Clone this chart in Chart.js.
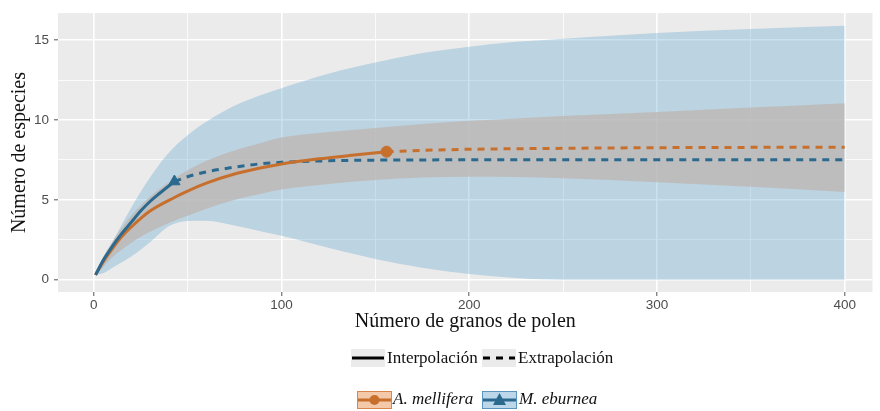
<!DOCTYPE html>
<html lang="es">
<head>
<meta charset="utf-8">
<title>Curvas de rarefacción y extrapolación</title>
<script src="https://cdn.jsdelivr.net/npm/chart.js@4/dist/chart.umd.min.js"></script>
<style>
  html, body { margin: 0; padding: 0; background: #fff; }
  #wrap { position: relative; width: 880px; height: 411px; overflow: hidden; }
  #chart { position: absolute; left: 0; top: 0; }
  .lg { position: absolute; font-family: "Liberation Serif", "Times New Roman", serif; font-size: 17px; color: #111; height: 20px; line-height: 20px; white-space: nowrap; }
  .lg.it { font-style: italic; }
  .key { position: absolute; }
</style>
</head>
<body>
<div id="wrap">
  <canvas id="chart" width="880" height="411"></canvas>

  <!-- line type legend -->
  <svg class="key" style="left:351px;top:349px" width="34" height="18">
    <rect x="0" y="0" width="34" height="18" fill="#ebebeb"/>
    <line x1="1" y1="9" x2="33" y2="9" stroke="#000" stroke-width="3"/>
  </svg>
  <div class="lg" style="left:387px;top:348px">Interpolación</div>
  <svg class="key" style="left:482px;top:349px" width="34" height="18">
    <rect x="0" y="0" width="34" height="18" fill="#ebebeb"/>
    <line x1="1" y1="9" x2="33" y2="9" stroke="#000" stroke-width="3" stroke-dasharray="7 6"/>
  </svg>
  <div class="lg" style="left:518px;top:348px">Extrapolación</div>

  <!-- species legend -->
  <svg class="key" style="left:357px;top:391px" width="35" height="18">
    <rect x="0.5" y="0.5" width="34" height="17" fill="#f4c9a9" stroke="#d8864c" stroke-width="1"/>
    <line x1="1" y1="9" x2="34" y2="9" stroke="#c7702e" stroke-width="3"/>
    <circle cx="17.5" cy="9" r="5" fill="#c7702e"/>
  </svg>
  <div class="lg it" style="left:393px;top:389px">A. mellifera</div>
  <svg class="key" style="left:482px;top:391px" width="35" height="18">
    <rect x="0.5" y="0.5" width="34" height="17" fill="#bcd6ea" stroke="#5b94bd" stroke-width="1"/>
    <line x1="1" y1="9" x2="34" y2="9" stroke="#2b6a8e" stroke-width="3"/>
    <polygon points="17.5,2 24,14 11,14" fill="#2b6a8e"/>
  </svg>
  <div class="lg it" style="left:519px;top:389px">M. eburnea</div>
</div>

<script>
// A. mellifera: rarefied (interpolated) and extrapolated richness
const melliferaInterpX = [1, 5, 10, 15, 20, 30, 43, 50, 60, 75, 88, 100, 120, 140, 156];
const melliferaInterpY = [0.3, 1.1, 1.95, 2.7, 3.3, 4.3, 5.15, 5.55, 6.05, 6.62, 6.98, 7.25, 7.57, 7.82, 8.02];
const melliferaExtrapX = [156, 175, 200, 250, 300, 350, 400];
const melliferaExtrapY = [8.02, 8.1, 8.17, 8.23, 8.27, 8.29, 8.3];

// M. eburnea: rarefied (interpolated) and extrapolated richness
const eburneaInterpX = [1, 5, 10, 15, 20, 25, 30, 35, 43];
const eburneaInterpY = [0.3, 1.2, 2.1, 2.9, 3.6, 4.3, 4.9, 5.4, 6.15];
const eburneaExtrapX = [43, 50, 60, 75, 88, 100, 125, 150, 200, 300, 400];
const eburneaExtrapY = [6.15, 6.45, 6.75, 7.05, 7.25, 7.35, 7.45, 7.49, 7.51, 7.52, 7.52];

// 95% confidence bands, sampled on a shared grid of sample sizes
const bandX = [1, 5, 10, 20, 30, 40, 50, 60, 75, 90, 100, 125, 150, 175, 200, 225, 250, 300, 350, 400];
const eburneaUpper = [0.3, 1.25, 2.35, 4.5, 6.4, 7.95, 9.05, 9.9, 10.9, 11.6, 12.0, 12.9, 13.6, 14.2, 14.6, 14.9, 15.1, 15.45, 15.7, 15.9];
const eburneaLower = [0.3, 0.4, 0.75, 1.45, 2.35, 3.35, 3.68, 3.7, 3.4, 3.0, 2.75, 2.0, 1.3, 0.75, 0.35, 0.1, 0, 0, 0, 0];
const melliferaUpper = [0.3, 1.4, 2.4, 4.0, 5.2, 6.1, 6.85, 7.45, 8.1, 8.6, 8.9, 9.25, 9.5, 9.75, 9.95, 10.1, 10.25, 10.5, 10.78, 11.05];
const melliferaLower = [0.3, 0.8, 1.4, 2.3, 3.0, 3.55, 4.0, 4.45, 5.0, 5.4, 5.65, 6.0, 6.25, 6.4, 6.45, 6.43, 6.35, 6.1, 5.82, 5.5];

// Axis ticks
const xTickStep = 50;       // major every 100, minor grid every 50
const xLabelEvery = 100;
const yTickStep = 2.5;      // major every 5, minor grid every 2.5
const yLabelEvery = 5;

const ORANGE = '#c7702e';
const BLUE = '#2b6a8e';

const pts = (xs, ys) => xs.map((x, i) => ({ x, y: ys[i] }));
const last = (xs, ys) => [{ x: xs[xs.length - 1], y: ys[ys.length - 1] }];

const panelBackground = {
  id: 'panelBackground',
  beforeDraw(chart) {
    const { ctx, chartArea: a } = chart;
    ctx.save();
    ctx.fillStyle = '#ebebeb';
    ctx.fillRect(a.left, a.top, a.right - a.left, a.bottom - a.top);
    ctx.restore();
  }
};

const curve = { pointRadius: 0, cubicInterpolationMode: 'monotone', borderCapStyle: 'butt' };

const isMajor = (v, every) => Math.abs(v / every - Math.round(v / every)) < 1e-6;

new Chart(document.getElementById('chart'), {
  type: 'line',
  data: {
    datasets: [
      // 0,1: M. eburnea band
      { ...curve, data: pts(bandX, eburneaUpper), borderWidth: 0, borderColor: 'rgba(0,0,0,0)',
        backgroundColor: 'rgba(78,155,202,0.3)', fill: 1, order: 10 },
      { ...curve, data: pts(bandX, eburneaLower), borderWidth: 0, borderColor: 'rgba(0,0,0,0)', fill: false, order: 10 },
      // 2,3: A. mellifera band
      { ...curve, data: pts(bandX, melliferaUpper), borderWidth: 0, borderColor: 'rgba(0,0,0,0)',
        backgroundColor: 'rgba(190,182,178,0.75)', fill: 3, order: 9 },
      { ...curve, data: pts(bandX, melliferaLower), borderWidth: 0, borderColor: 'rgba(0,0,0,0)', fill: false, order: 9 },
      // extrapolated curves
      { ...curve, data: pts(melliferaExtrapX, melliferaExtrapY), borderColor: ORANGE, borderWidth: 3,
        borderDash: [7, 6], fill: false, order: 4 },
      { ...curve, data: pts(eburneaExtrapX, eburneaExtrapY), borderColor: BLUE, borderWidth: 3,
        borderDash: [7, 6], fill: false, order: 4 },
      // interpolated curves
      { ...curve, data: pts(melliferaInterpX, melliferaInterpY), borderColor: ORANGE, borderWidth: 3, fill: false, order: 3 },
      { ...curve, data: pts(eburneaInterpX, eburneaInterpY), borderColor: BLUE, borderWidth: 3, fill: false, order: 2 },
      // observed sample size markers
      { data: last(melliferaInterpX, melliferaInterpY), showLine: false, pointStyle: 'circle', pointRadius: 5.5,
        pointBackgroundColor: ORANGE, pointBorderColor: ORANGE, pointBorderWidth: 1, order: 1 },
      { data: last(eburneaInterpX, eburneaInterpY), showLine: false, pointStyle: 'triangle', pointRadius: 6.5,
        pointBackgroundColor: BLUE, pointBorderColor: BLUE, pointBorderWidth: 1, order: 1 }
    ]
  },
  options: {
    responsive: false,
    animation: false,
    events: [],
    layout: { padding: { left: 0, right: 0, top: 9, bottom: 77 } },
    plugins: { legend: { display: false }, tooltip: { enabled: false } },
    scales: {
      x: {
        type: 'linear',
        min: -19,
        max: 414.8,
        afterFit(scale) { scale.height = 42; },
        border: { display: false },
        grid: {
          color: '#ffffff',
          lineWidth: ctx => isMajor(ctx.tick.value, xLabelEvery) ? 1.6 : 0.8,
          tickColor: ctx => isMajor(ctx.tick.value, xLabelEvery) ? '#555555' : 'rgba(0,0,0,0)',
          tickLength: 4,
          tickWidth: 1
        },
        ticks: {
          stepSize: xTickStep,
          includeBounds: false,
          autoSkip: false,
          maxRotation: 0,
          padding: 1,
          color: '#4d4d4d',
          font: { family: 'Liberation Sans', size: 13.5 },
          callback: v => isMajor(v, xLabelEvery) ? String(v) : ''
        },
        title: {
          display: true,
          text: 'Número de granos de polen',
          color: '#111',
          font: { family: 'Liberation Serif', size: 20 },
          padding: { top: 0, bottom: 0 }
        }
      },
      y: {
        type: 'linear',
        min: -0.77,
        max: 16.7,
        afterFit(scale) { scale.width = 58; },
        border: { display: false },
        grid: {
          color: '#ffffff',
          lineWidth: ctx => isMajor(ctx.tick.value, yLabelEvery) ? 1.6 : 0.8,
          tickColor: ctx => isMajor(ctx.tick.value, yLabelEvery) ? '#555555' : 'rgba(0,0,0,0)',
          tickLength: 4,
          tickWidth: 1
        },
        ticks: {
          stepSize: yTickStep,
          includeBounds: false,
          autoSkip: false,
          padding: 5,
          color: '#4d4d4d',
          font: { family: 'Liberation Sans', size: 13.5 },
          callback: v => isMajor(v, yLabelEvery) ? String(v) : ''
        },
        title: {
          display: true,
          text: 'Número de especies',
          color: '#111',
          font: { family: 'Liberation Serif', size: 20 },
          padding: { top: 8, bottom: 0 }
        }
      }
    }
  },
  plugins: [panelBackground]
});
</script>
</body>
</html>
